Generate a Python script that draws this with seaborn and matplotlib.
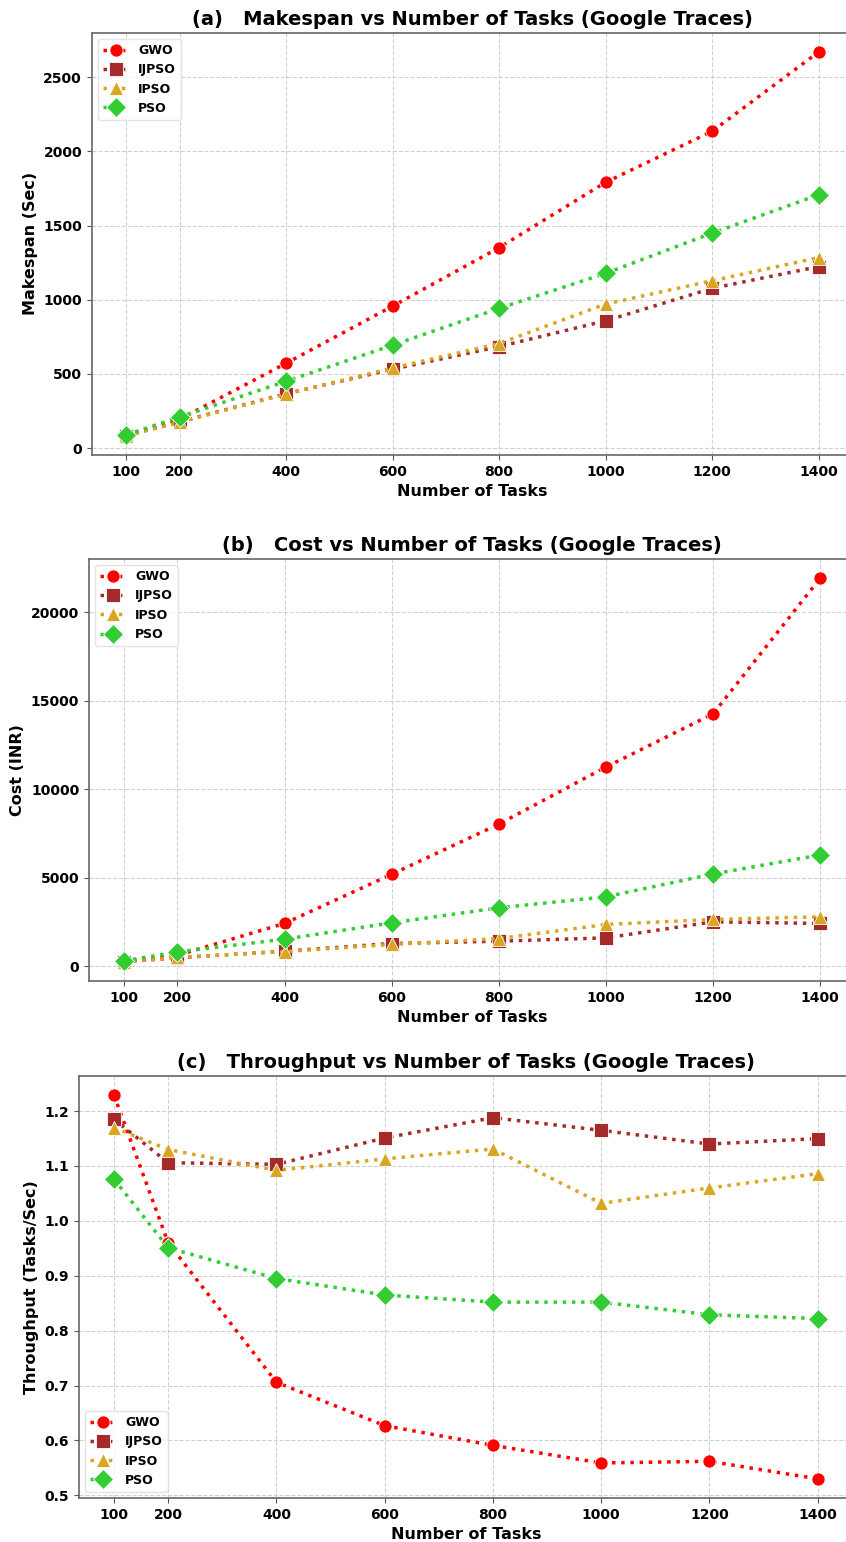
import matplotlib
matplotlib.use("Agg")
import matplotlib.pyplot as plt
import seaborn as sns

# Number of tasks on the x axis
tasks = [100, 200, 400, 600, 800, 1000, 1200, 1400]

# Makespan (Sec)
makespan_gwo = [88, 195, 572, 957, 1351, 1791, 2135, 2669]
makespan_ijpso = [85, 178, 367, 532, 684, 858, 1077, 1223]
makespan_ipso = [84, 175, 365, 540, 705, 971, 1128, 1284]
makespan_pso = [90, 210, 451, 694, 942, 1178, 1449, 1707]

# Cost (INR)
cost_gwo = [260, 620, 2418, 5192, 8024, 11251, 14253, 21914]
cost_ijpso = [250, 480, 850, 1285, 1416, 1604, 2510, 2418]
cost_ipso = [250, 500, 830, 1230, 1567, 2360, 2643, 2793]
cost_pso = [300, 810, 1529, 2452, 3301, 3924, 5210, 6285]

# Throughput (Tasks/Sec)
thr_gwo = [1.229, 0.960, 0.706, 0.627, 0.591, 0.559, 0.562, 0.530]
thr_ijpso = [1.185, 1.106, 1.103, 1.151, 1.188, 1.165, 1.140, 1.150]
thr_ipso = [1.170, 1.130, 1.092, 1.113, 1.131, 1.032, 1.060, 1.086]
thr_pso = [1.076, 0.951, 0.895, 0.865, 0.852, 0.852, 0.829, 0.822]

algorithms = ["GWO", "IJPSO", "IPSO", "PSO"]
colors = {"GWO": "#ff0000", "IJPSO": "#a52a2a", "IPSO": "#daa520", "PSO": "#32cd32"}
markers = {"GWO": "o", "IJPSO": "s", "IPSO": "^", "PSO": "D"}

panels = [
    ("(a)   Makespan vs Number of Tasks (Google Traces)", "Makespan (Sec)",
     [makespan_gwo, makespan_ijpso, makespan_ipso, makespan_pso], "upper left",
     [0.1085, 0.705, 0.9, 0.2737]),
    ("(b)   Cost vs Number of Tasks (Google Traces)", "Cost (INR)",
     [cost_gwo, cost_ijpso, cost_ipso, cost_pso], "upper left",
     [0.1052, 0.3638, 0.9055, 0.2737]),
    ("(c)   Throughput vs Number of Tasks (Google Traces)", "Throughput (Tasks/Sec)",
     [thr_gwo, thr_ijpso, thr_ipso, thr_pso], "lower left",
     [0.0932, 0.0285, 0.915, 0.2737]),
]

sns.set_style("ticks")
plt.rcParams["font.family"] = ["DejaVu Sans"]
plt.rcParams["font.weight"] = "bold"
plt.rcParams["text.color"] = "black"
plt.rcParams["axes.labelcolor"] = "black"
plt.rcParams["xtick.color"] = "black"
plt.rcParams["ytick.color"] = "black"

fig = plt.figure(figsize=(8.46, 15.42), dpi=100)

for title, ylabel, series, loc, rect in panels:
    ax = fig.add_axes(rect)
    for name, vals in zip(algorithms, series):
        sns.lineplot(x=tasks, y=vals, ax=ax, color=colors[name], marker=markers[name],
                     markersize=9.5 if name != "PSO" else 10, linestyle=":", linewidth=2.5,
                     markeredgecolor="white", markeredgewidth=0.6, label=name)
    ax.set_xticks(tasks)
    ax.grid(True, linestyle="--", color="#cccccc", linewidth=0.8, alpha=0.9)
    ax.set_axisbelow(True)
    ax.set_title(title, fontsize=14, fontweight="bold", pad=6, color="black")
    ax.set_xlabel("Number of Tasks", fontsize=11.5, fontweight="bold")
    ax.set_ylabel(ylabel, fontsize=11.5, fontweight="bold")
    ax.tick_params(axis="both", labelsize=10, length=3.5, color="#555555",
                   labelcolor="black")
    for lab in ax.get_xticklabels() + ax.get_yticklabels():
        lab.set_fontweight("bold")
    for sp in ax.spines.values():
        sp.set_color("#666666")
        sp.set_linewidth(1.2)
    leg = ax.legend(loc=loc, prop={"weight": "bold", "size": 9}, frameon=True,
                    handlelength=2.0)
    leg.get_frame().set_edgecolor("#dddddd")

fig.savefig("out.png", dpi=100)
